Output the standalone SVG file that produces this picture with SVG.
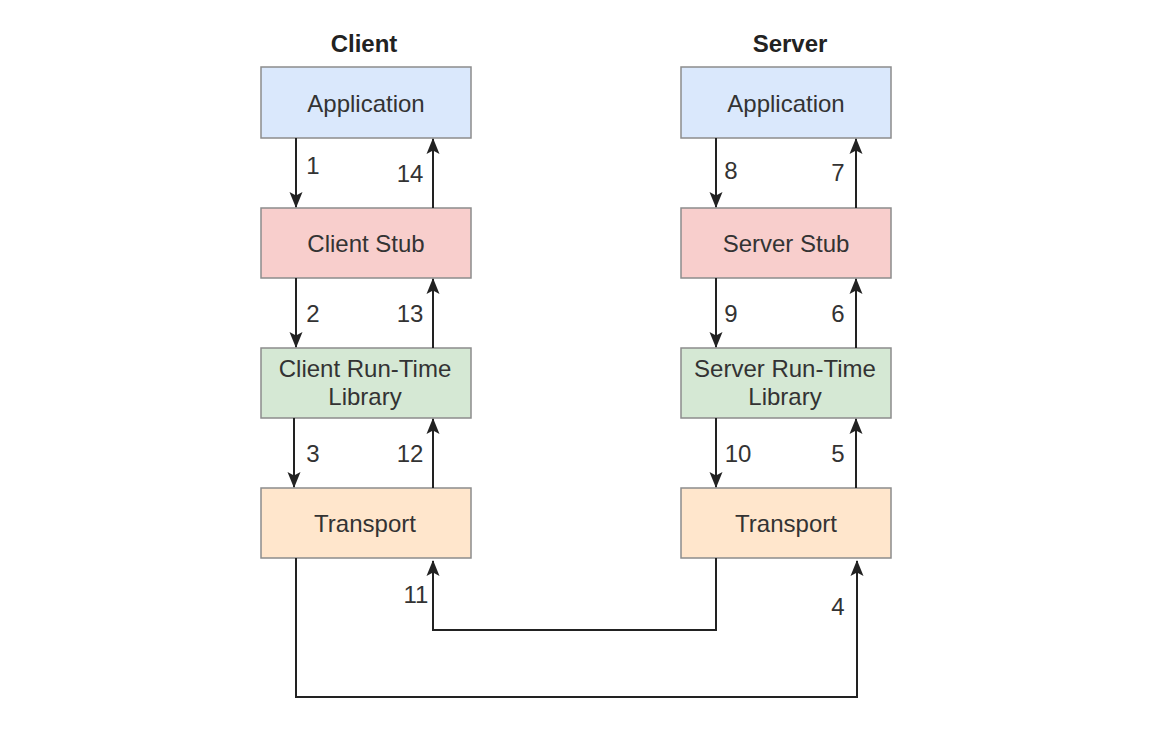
<svg xmlns="http://www.w3.org/2000/svg" width="1168" height="742" viewBox="0 0 1168 742">
<style>
.box{stroke:#8c8c8c;stroke-width:1.5}
.blue{fill:#dae8fc}.red{fill:#f8cecc}.green{fill:#d5e8d4}.orange{fill:#ffe6cc}
text{font-family:"Liberation Sans",Arial,sans-serif;font-size:24px;fill:#333333}
.lbl{text-anchor:middle}
.title{font-weight:bold;text-anchor:middle;fill:#222222}
.num{text-anchor:middle;fill:#333333}
.conn{fill:none;stroke:#222222;stroke-width:2}
</style>
<defs>
<marker id="arr" viewBox="0 0 16 16" refX="15" refY="8" markerWidth="16" markerHeight="16" markerUnits="userSpaceOnUse" orient="auto">
<path d="M0,1.5 L16,8 L0,14.5 L3.5,8 Z" fill="#222222"/>
</marker>
</defs>
<rect width="1168" height="742" fill="#ffffff"/>
<text class="title" x="364" y="52">Client</text>
<text class="title" x="790" y="52">Server</text>
<g id="client-app"><rect class="box blue" x="261" y="67" width="210" height="71"/><text class="lbl" x="366" y="112">Application</text></g>
<g id="client-stub"><rect class="box red" x="261" y="208" width="210" height="70"/><text class="lbl" x="366" y="252">Client Stub</text></g>
<g id="client-rtl"><rect class="box green" x="261" y="348" width="210" height="70"/><text class="lbl" x="365" y="377">Client Run-Time</text><text class="lbl" x="365" y="405">Library</text></g>
<g id="client-transport"><rect class="box orange" x="261" y="488" width="210" height="70"/><text class="lbl" x="365" y="532">Transport</text></g>
<g id="server-app"><rect class="box blue" x="681" y="67" width="210" height="71"/><text class="lbl" x="786" y="112">Application</text></g>
<g id="server-stub"><rect class="box red" x="681" y="208" width="210" height="70"/><text class="lbl" x="786" y="252">Server Stub</text></g>
<g id="server-rtl"><rect class="box green" x="681" y="348" width="210" height="70"/><text class="lbl" x="785" y="377">Server Run-Time</text><text class="lbl" x="785" y="405">Library</text></g>
<g id="server-transport"><rect class="box orange" x="681" y="488" width="210" height="70"/><text class="lbl" x="786" y="532">Transport</text></g>
<g id="connectors">
<path class="conn" d="M296,138 V207" marker-end="url(#arr)"/>
<path class="conn" d="M433,208 V139" marker-end="url(#arr)"/>
<path class="conn" d="M296,278 V347" marker-end="url(#arr)"/>
<path class="conn" d="M433,348 V279" marker-end="url(#arr)"/>
<path class="conn" d="M294,418 V487" marker-end="url(#arr)"/>
<path class="conn" d="M433,488 V419" marker-end="url(#arr)"/>
<path class="conn" d="M716,138 V207" marker-end="url(#arr)"/>
<path class="conn" d="M856,208 V139" marker-end="url(#arr)"/>
<path class="conn" d="M716,278 V347" marker-end="url(#arr)"/>
<path class="conn" d="M856,348 V279" marker-end="url(#arr)"/>
<path class="conn" d="M716,418 V487" marker-end="url(#arr)"/>
<path class="conn" d="M856,488 V419" marker-end="url(#arr)"/>
<path class="conn" d="M716,558 V630 H433 V561" marker-end="url(#arr)"/>
<path class="conn" d="M296,558 V697 H857 V561" marker-end="url(#arr)"/>
<text class="num" x="313" y="174">1</text>
<text class="num" x="410" y="182">14</text>
<text class="num" x="313" y="322">2</text>
<text class="num" x="410" y="322">13</text>
<text class="num" x="313" y="462">3</text>
<text class="num" x="410" y="462">12</text>
<text class="num" x="416" y="603">11</text>
<text class="num" x="731" y="179">8</text>
<text class="num" x="838" y="181">7</text>
<text class="num" x="731" y="322">9</text>
<text class="num" x="838" y="322">6</text>
<text class="num" x="738" y="462">10</text>
<text class="num" x="838" y="462">5</text>
<text class="num" x="838" y="615">4</text>
</g>
</svg>
